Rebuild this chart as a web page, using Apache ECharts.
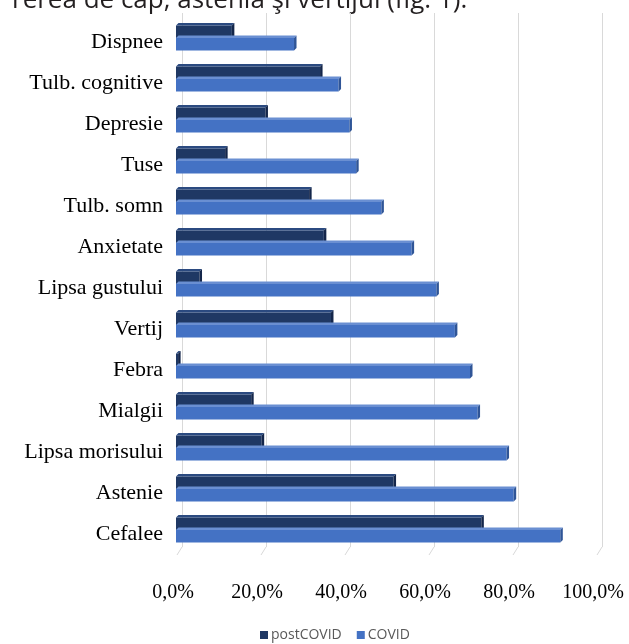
<!DOCTYPE html>
<html>
<head>
<meta charset="utf-8">
<script src="https://cdn.jsdelivr.net/npm/echarts@6/dist/echarts.min.js"></script>
<style>
  html, body { margin: 0; padding: 0; background: #fff; }
  #chart { width: 629px; height: 644px; }
</style>
</head>
<body>
<div id="chart"></div>
<script>
// Symptoms, listed top to bottom
const categories = ['Dispnee', 'Tulb. cognitive', 'Depresie', 'Tuse', 'Tulb. somn', 'Anxietate',
  'Lipsa gustului', 'Vertij', 'Febra', 'Mialgii', 'Lipsa morisului', 'Astenie', 'Cefalee'];
// Share of patients (%)
const postCovid = [13.3, 34.3, 21.3, 11.7, 31.7, 35.2, 5.6, 36.9, 0.5, 17.9, 20.4, 51.8, 72.7];
const covid = [28.1, 38.7, 41.3, 42.9, 48.9, 56.1, 62.0, 66.4, 70.0, 71.8, 78.7, 80.4, 91.5];
const xTicks = [0, 20, 40, 60, 80, 100];
const seriesNames = ['postCOVID', 'COVID'];
const captionLine = 'rerea de cap, astenia şi vertijul (fig. 1).';

const palette = {
  postCOVID: { front: '#1f3864', top: '#2b4a80', side: '#14264a' },
  COVID: { front: '#4472c4', top: '#6a8fd2', side: '#2f5597' }
};

// Draws one bar with a shallow 3D top and right face
function bar3d(colors, slot) {
  return function (params, api) {
    const cat = api.value(0);
    const val = api.value(1);
    const start = api.coord([0, cat]);
    const end = api.coord([val, cat]);
    const band = api.size([0, 1])[1];
    const h = band * 0.305;
    const cy = start[1];
    const y0 = slot === 0 ? cy - h : cy;
    const y1 = y0 + h;
    const x0 = start[0];
    const x1 = Math.max(end[0], x0 + 1);
    const d = 2.5;
    return {
      type: 'group',
      children: [
        { type: 'rect', shape: { x: x0, y: y0, width: x1 - x0, height: h },
          style: { fill: colors.front } },
        { type: 'polygon', shape: { points: [[x0, y0], [x0 + d, y0 - d], [x1 + d, y0 - d], [x1, y0]] },
          style: { fill: colors.top } },
        { type: 'polygon', shape: { points: [[x1, y0], [x1 + d, y0 - d], [x1 + d, y1 - d], [x1, y1]] },
          style: { fill: colors.side } }
      ]
    };
  };
}

// Short slanted floor marks under each vertical grid line
function floorTick(params, api) {
  const p = api.coord([api.value(0), 0]);
  return {
    type: 'line',
    shape: { x1: p[0], y1: p[1], x2: p[0] - 5, y2: p[1] + 8 },
    style: { stroke: '#d9d9d9', lineWidth: 1 }
  };
}

const chart = echarts.init(document.getElementById('chart'), null, { renderer: 'canvas' });

chart.setOption({
  backgroundColor: '#ffffff',
  animation: false,
  graphic: [{
    type: 'text', left: 12, top: -12,
    style: { text: captionLine, font: '26px "Open Sans"', fill: '#231f20' }
  }],
  legend: {
    data: seriesNames,
    left: 255, top: 623,
    icon: 'rect', itemWidth: 8, itemHeight: 8, itemGap: 15,
    textStyle: { fontFamily: 'Open Sans', fontSize: 14, color: '#595959', padding: [0, 0, 0, -2] }
  },
  grid: [
    { left: 176, width: 420, top: 17.5, height: 533 },
    { left: 182, width: 420, top: 13, height: 534 }
  ],
  xAxis: [
    {
      gridIndex: 0, type: 'value', min: 0, max: 100, interval: 20,
      axisLine: { show: false }, axisTick: { show: false }, splitLine: { show: false },
      axisLabel: {
        margin: 32, color: '#000', fontFamily: 'Liberation Serif', fontSize: 20,
        padding: [0, 6, 0, 0],
        formatter: v => xTicks.indexOf(v) >= 0 ? v.toFixed(1).replace('.', ',') + '%' : ''
      }
    },
    {
      gridIndex: 1, type: 'value', min: 0, max: 100, interval: 20,
      axisLine: { show: false }, axisTick: { show: false }, axisLabel: { show: false },
      splitLine: { show: true, lineStyle: { color: '#d9d9d9', width: 1 } }
    }
  ],
  yAxis: [
    {
      gridIndex: 0, type: 'category', data: categories, inverse: true,
      axisLine: { show: false }, axisTick: { show: false },
      axisLabel: { margin: 13, color: '#000', fontFamily: 'Liberation Serif', fontSize: 22,
        formatter: v => '{c|' + v + '}',
        rich: { c: { fontFamily: 'Liberation Serif', fontSize: 22, color: '#000', padding: [9, 0, 0, 0] } } }
    },
    {
      gridIndex: 1, type: 'value', min: 0, max: 1, show: false
    }
  ],
  series: [
    {
      type: 'custom', xAxisIndex: 1, yAxisIndex: 1, silent: true,
      renderItem: floorTick,
      data: xTicks.map(v => [v]),
      encode: { x: 0 },
      z: 1
    },
    {
      name: 'postCOVID', type: 'custom',
      itemStyle: { color: palette.postCOVID.front },
      renderItem: bar3d(palette.postCOVID, 0),
      data: postCovid.map((v, i) => [i, v]),
      encode: { y: 0, x: 1 },
      z: 2
    },
    {
      name: 'COVID', type: 'custom',
      itemStyle: { color: palette.COVID.front },
      renderItem: bar3d(palette.COVID, 1),
      data: covid.map((v, i) => [i, v]),
      encode: { y: 0, x: 1 },
      z: 3
    }
  ]
});
</script>
</body>
</html>
